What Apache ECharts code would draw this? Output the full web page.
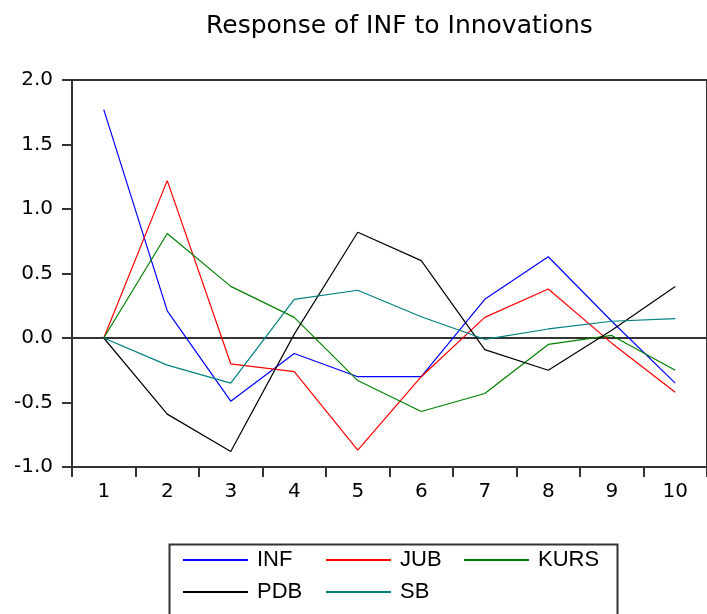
<!DOCTYPE html>
<html>
<head>
<meta charset="utf-8">
<script src="https://cdn.jsdelivr.net/npm/echarts@6/dist/echarts.min.js"></script>
<style>
  html, body { margin: 0; padding: 0; background: #fff; }
  #chart { width: 707px; height: 614px; }
</style>
</head>
<body>
<div id="chart"></div>
<script>
const titleText = 'Response of INF to Innovations';
const periods = ['1', '2', '3', '4', '5', '6', '7', '8', '9', '10'];
const yTicks = { min: -1.0, max: 2.0, step: 0.5 };

const INF  = [1.77, 0.21, -0.49, -0.12, -0.30, -0.30, 0.30, 0.63, 0.13, -0.35];
const JUB  = [0.00, 1.22, -0.20, -0.26, -0.87, -0.30, 0.16, 0.38, -0.04, -0.42];
const KURS = [0.00, 0.81, 0.40, 0.16, -0.33, -0.57, -0.43, -0.05, 0.02, -0.25];
const PDB  = [0.00, -0.59, -0.88, 0.03, 0.82, 0.60, -0.09, -0.25, 0.06, 0.40];
const SB   = [0.00, -0.21, -0.35, 0.30, 0.37, 0.165, -0.01, 0.07, 0.13, 0.15];

const seriesNames = ['INF', 'JUB', 'KURS', 'PDB', 'SB'];
const seriesData = [INF, JUB, KURS, PDB, SB];
const seriesColors = ['#0000ff', '#ff0000', '#008000', '#000000', '#008080'];

const axisColor = '#333333';
const labelFont = 'DejaVu Sans';

const series = seriesNames.map((name, i) => {
  const s = {
    name: name,
    type: 'line',
    data: seriesData[i],
    symbol: 'none',
    smooth: false,
    lineStyle: { color: seriesColors[i], width: 1.2 },
    itemStyle: { color: seriesColors[i] },
    z: 3
  };
  if (i === 0) {
    s.markLine = {
      silent: true,
      symbol: ['none', 'none'],
      label: { show: false },
      lineStyle: { color: axisColor, width: 2, type: 'solid' },
      data: [{ yAxis: 0 }],
      z: 2
    };
  }
  return s;
});

const legendPos = [
  { left: 183, top: 549 },
  { left: 326, top: 549 },
  { left: 464, top: 549 },
  { left: 183, top: 581 },
  { left: 326, top: 581 }
];

const legends = seriesNames.map((name, i) => ({
  data: [{ name: name, icon: 'rect', itemStyle: { color: seriesColors[i] } }],
  left: legendPos[i].left,
  top: legendPos[i].top,
  padding: 0,
  itemWidth: 65,
  itemHeight: 2,
  selectedMode: false,
  textStyle: {
    fontFamily: 'Liberation Sans',
    fontSize: 22,
    color: '#000',
    padding: [0, 0, 0, 4]
  }
}));

const chart = echarts.init(document.getElementById('chart'), null, { renderer: 'canvas' });
chart.setOption({
  backgroundColor: '#ffffff',
  animation: false,
  title: {
    text: titleText,
    left: 201,
    top: 9,
    textStyle: { fontFamily: labelFont, fontSize: 25, fontWeight: 'normal', color: '#000' }
  },
  legend: legends,
  graphic: [{
    type: 'rect',
    shape: { x: 169.5, y: 544.5, width: 448, height: 90 },
    style: { fill: 'none', stroke: axisColor, lineWidth: 2 },
    silent: true
  }],
  grid: {
    left: 72,
    top: 80,
    width: 644,
    height: 387,
    show: true,
    borderColor: axisColor,
    borderWidth: 2,
    containLabel: false
  },
  xAxis: {
    type: 'category',
    data: periods,
    boundaryGap: true,
    axisLine: { show: true, onZero: false, lineStyle: { color: axisColor, width: 2 } },
    axisTick: { show: true, inside: false, length: 10, alignWithLabel: false, lineStyle: { color: axisColor, width: 2 } },
    axisLabel: { margin: 15, fontFamily: labelFont, fontSize: 20, color: '#000' },
    splitLine: { show: false }
  },
  yAxis: {
    type: 'value',
    min: yTicks.min,
    max: yTicks.max,
    interval: yTicks.step,
    axisLine: { show: true, lineStyle: { color: axisColor, width: 2 } },
    axisTick: { show: true, inside: false, length: 10, lineStyle: { color: axisColor, width: 2 } },
    axisLabel: {
      margin: 19,
      fontFamily: labelFont,
      fontSize: 20,
      color: '#000',
      formatter: v => v.toFixed(1)
    },
    splitLine: { show: false }
  },
  series: series
});
</script>
</body>
</html>
